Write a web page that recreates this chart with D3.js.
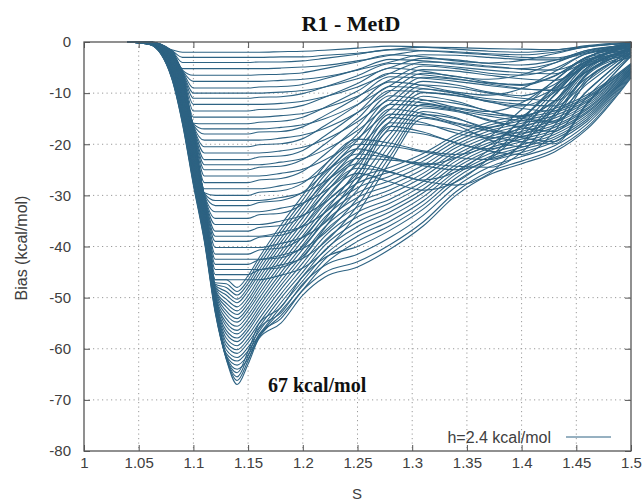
<!DOCTYPE html>
<html>
<head>
<meta charset="utf-8">
<script src="https://cdn.jsdelivr.net/npm/d3@7"></script>
<style>
  body { margin: 0; background: #fff; }
  svg { display: block; }
</style>
</head>
<body>
<div class="viz"></div>
<script>
const width = 643;
const height = 501;

// s values (collective variable) where every bias profile was read
const sValues = [1.04, 1.06, 1.08, 1.09, 1.10, 1.11, 1.12, 1.13, 1.14, 1.15, 1.16, 1.18,
                 1.20, 1.22, 1.25, 1.28, 1.31, 1.34, 1.37, 1.40, 1.43, 1.46, 1.50];

// early profiles: first well (s ~ 1.14) filling, small second well on the right
const earlyBias = [
  [0,0,-1.5,-2,-2,-2,-2,-2,-2,-2,-2,-1.9,-1.8,-1.6,-1.2,-0.8,-1,-1.4,-1.8,-2,-1.6,-0.7,0],
  [0,0,-1.6,-4,-4,-4,-4,-4,-4,-4,-3.9,-3.9,-3.7,-3.2,-2.4,-1.5,-1.7,-2.1,-2.5,-3,-3.1,-1.9,-0.2],
  [0,0,-1.7,-5.5,-6.5,-6.5,-6.5,-6.5,-6.5,-6.5,-6.4,-6.3,-6,-5.2,-3.9,-2.5,-2.9,-3.7,-4.1,-3.6,-2.3,-0.9,-0.3],
  [0,0,-1.9,-5.7,-9,-9,-9,-9,-9,-9,-8.8,-8.7,-8.3,-7.2,-5.4,-3.4,-3.7,-4.3,-4.9,-5.2,-4.1,-1.8,-0.5],
  [0,0,-2,-6,-11,-11,-11,-11,-11,-11,-10.8,-10.7,-10.1,-8.8,-6.6,-4.2,-4.4,-4.9,-5.5,-6,-6.2,-3.8,-0.6],
  [0,0,-2.1,-6.2,-13.5,-13.5,-13.5,-13.5,-13.5,-13.5,-13.2,-13.1,-12.4,-10.8,-8.1,-5.1,-5.7,-6.8,-7.3,-6.4,-4.1,-1.6,-0.8],
  [0,0,-2.2,-6.5,-15.9,-16,-16,-16,-16,-16,-15.7,-15.5,-14.7,-12.8,-9.6,-6.1,-6.4,-7.2,-8,-8.3,-6.6,-2.9,-0.9],
  [0,0,-2.4,-6.7,-16.2,-18,-18,-18,-18,-18,-17.6,-17.5,-16.6,-14.4,-10.8,-6.8,-7.1,-7.7,-8.5,-9.2,-9.4,-5.7,-1.1],
  [0,0,-2.5,-7,-16.5,-20.5,-20.5,-20.5,-20.5,-20.5,-20.1,-19.9,-18.9,-16.4,-12.3,-7.8,-8.5,-9.8,-10.4,-9.1,-5.8,-2.3,-1.2],
  [0,0,-2.6,-7.2,-16.8,-23,-23,-23,-23,-23,-22.5,-22.3,-21.2,-18.4,-13.8,-8.7,-9.1,-10.1,-11.1,-11.5,-9.1,-4,-1.4],
  [0,0,-2.7,-7.4,-17.1,-25,-25,-25,-25,-25,-24.5,-24.3,-23,-20,-15,-9.5,-9.8,-10.5,-11.5,-12.2,-12.5,-7.6,-1.5],
  [0,0,-2.8,-7.7,-17.4,-27.5,-27.5,-27.5,-27.5,-27.5,-27,-26.7,-25.3,-22,-16.5,-10.5,-11.3,-12.8,-13.6,-11.9,-7.6,-3,-1.7],
  [0,0,-3,-7.9,-17.7,-29.5,-30,-30,-30,-30,-29.4,-29.1,-27.6,-24,-18,-11.4,-11.9,-13,-14.1,-14.6,-11.6,-5,-1.8],
  [0,0,-3.1,-8.2,-18,-29.8,-32,-32,-32,-32,-31.4,-31,-29.4,-25.6,-19.2,-12.2,-12.5,-13.4,-14.5,-15.4,-15.7,-9.6,-2],
  [0,0,-3.2,-8.4,-18.4,-30,-34.5,-34.5,-34.5,-34.5,-33.8,-33.5,-31.7,-27.6,-20.7,-13.1,-14,-15.8,-16.7,-14.6,-9.4,-3.7,-2.1],
  [0,0,-3.3,-8.7,-18.7,-30.3,-37,-37,-37,-37,-36.3,-35.9,-34,-29.6,-22.2,-14.1,-14.6,-16,-17.3,-17.8,-14.1,-6.1,-2.3],
  [0,0,-3.5,-8.9,-19,-30.6,-39,-39,-39,-39,-38.2,-37.8,-35.9,-31.2,-23.4,-14.8,-15.8,-17.8,-18.8,-16.5,-10.5,-4.1,-2.4],
  [0,0,-3.6,-9.2,-19.3,-30.9,-41.5,-41.5,-41.5,-41.5,-40.7,-40.3,-38.2,-33.2,-24.9,-15.8,-16.2,-17.2,-18.5,-19.5,-19.9,-12.1,-2.6],
  [0,0,-3.7,-9.4,-19.6,-31.2,-43.5,-43.5,-43.5,-43.5,-42.6,-42.2,-40,-34.8,-26.1,-16.5,-17.6,-19.8,-20.9,-18.3,-11.7,-4.6,-2.7],
  [0,0,-3.8,-9.6,-19.9,-31.5,-45.5,-45.5,-45.5,-45.5,-44.6,-44.1,-41.9,-36.4,-27.3,-17.3,-18,-19.7,-21.3,-22,-17.5,-7.6,-2.9]
];

// profiles in between: hump sits a bit further right (s ~ 1.31)
const midBias = [
  [0,0,-1.6,-3,-3,-3,-3,-3,-3,-3,-3,-2.9,-2.9,-2.6,-2.2,-1.5,-1,-1.1,-1.3,-1.4,-1.5,-0.9,-0.1],
  [0,0,-1.7,-5.2,-5.2,-5.2,-5.2,-5.2,-5.2,-5.2,-5.2,-5.1,-4.9,-4.6,-3.7,-2.6,-1.7,-1.9,-2.3,-2.5,-2,-0.9,-0.3],
  [0,0,-1.8,-5.6,-7.7,-7.7,-7.7,-7.7,-7.7,-7.7,-7.7,-7.5,-7.3,-6.8,-5.5,-3.9,-2.5,-2.6,-3,-3.4,-3.5,-2.1,-0.4],
  [0,0,-1.9,-5.9,-10,-10,-10,-10,-10,-10,-10,-9.8,-9.5,-8.8,-7.2,-5,-3.2,-3.5,-4.2,-4.5,-3.6,-1.6,-0.6],
  [0,0,-2.1,-6.1,-12.2,-12.2,-12.2,-12.2,-12.2,-12.2,-12.2,-12,-11.6,-10.7,-8.8,-6.1,-3.9,-4.1,-4.7,-5.3,-5.5,-3.4,-0.7],
  [0,0,-2.2,-6.3,-14.7,-14.7,-14.7,-14.7,-14.7,-14.7,-14.7,-14.4,-14,-12.9,-10.6,-7.4,-4.7,-5.2,-6.1,-6.5,-5.2,-2.2,-0.9],
  [0,0,-2.3,-6.6,-16,-17,-17,-17,-17,-17,-17,-16.7,-16.2,-15,-12.2,-8.5,-5.4,-5.7,-6.5,-7.2,-7.5,-4.6,-1],
  [0,0,-2.4,-6.8,-16.3,-19.2,-19.2,-19.2,-19.2,-19.2,-19.2,-18.8,-18.2,-16.9,-13.8,-9.6,-6.1,-6.7,-7.9,-8.5,-6.7,-2.9,-1.2],
  [0,0,-2.5,-7.1,-16.6,-21.7,-21.7,-21.7,-21.7,-21.7,-21.7,-21.3,-20.6,-19.1,-15.6,-10.9,-6.9,-7.3,-8.2,-9.1,-9.5,-5.8,-1.3],
  [0,0,-2.7,-7.3,-17,-24,-24,-24,-24,-24,-24,-23.5,-22.8,-21.1,-17.3,-12,-7.7,-8.4,-9.8,-10.5,-8.3,-3.6,-1.5],
  [0,0,-2.8,-7.6,-17.3,-26.2,-26.2,-26.2,-26.2,-26.2,-26.2,-25.7,-24.9,-23.1,-18.9,-13.1,-8.4,-8.9,-10,-11,-11.5,-7,-1.6],
  [0,0,-2.9,-7.8,-17.6,-28.7,-28.7,-28.7,-28.7,-28.7,-28.7,-28.1,-27.3,-25.3,-20.7,-14.4,-9.2,-10,-11.7,-12.5,-9.9,-4.3,-1.8],
  [0,0,-3,-8.1,-17.9,-29.6,-31,-31,-31,-31,-31,-30.4,-29.5,-27.3,-22.3,-15.5,-9.9,-10.4,-11.7,-13,-13.5,-8.2,-1.9],
  [0,0,-3.2,-8.3,-18.2,-29.9,-33.2,-33.2,-33.2,-33.2,-33.2,-32.5,-31.5,-29.2,-23.9,-16.6,-10.6,-11.6,-13.5,-14.5,-11.5,-5,-2.1],
  [0,0,-3.3,-8.5,-18.5,-30.2,-35.7,-35.7,-35.7,-35.7,-35.7,-35,-33.9,-31.4,-25.7,-17.9,-11.4,-12,-13.5,-14.9,-15.5,-9.5,-2.2],
  [0,0,-3.4,-8.8,-18.8,-30.5,-38,-38,-38,-38,-38,-37.2,-36.1,-33.4,-27.4,-19,-12.2,-13.3,-15.4,-16.5,-13.1,-5.7,-2.4],
  [0,0,-3.5,-9,-19.1,-30.8,-40.2,-40.2,-40.2,-40.2,-40.2,-39.4,-38.2,-35.4,-28.9,-20.1,-12.9,-13.6,-15.2,-16.8,-17.5,-10.7,-2.5],
  [0,0,-3.6,-9.3,-19.4,-31.1,-42.5,-42.5,-42.5,-42.5,-42.5,-41.7,-40.4,-37.4,-30.6,-21.3,-13.6,-14.8,-17.3,-18.5,-14.7,-6.4,-2.7],
  [0,0,-3.8,-9.5,-19.8,-31.3,-44.5,-44.5,-44.5,-44.5,-44.5,-43.6,-42.3,-39.2,-32,-22.3,-14.2,-15,-16.9,-18.7,-19.5,-11.9,-2.8],
  [0,0,-3.9,-9.8,-20.1,-31.6,-46.5,-46.5,-46.5,-46.5,-46.5,-45.6,-44.2,-40.9,-33.5,-23.3,-14.9,-16.3,-19.1,-20.5,-16.3,-7.1,-3]
];

// later profiles: deeper first well, bias spread over s = 1.2 - 1.5
const lateBias = [
  [0,-0.2,-3.9,-9.9,-20.2,-31.8,-46.5,-46.5,-48,-45.7,-42.2,-35.8,-30,-24.2,-19,-19.8,-21.3,-22,-20.2,-15.2,-8.8,-3.2,0],
  [0,-0.2,-4.1,-10.1,-20.5,-32.1,-47.1,-47.3,-48.8,-46.5,-43,-36.7,-30.9,-25.2,-20,-20.4,-21.5,-22.6,-23,-20.1,-12.9,-5.1,0],
  [0,-0.2,-4.2,-10.4,-20.8,-32.4,-47.4,-48,-49.5,-47.2,-43.8,-37.5,-31.8,-26.1,-20.9,-22.5,-24,-22.6,-18.7,-13.2,-7.5,-3,-0.5],
  [0,-0.3,-4.3,-10.6,-21.2,-32.6,-47.6,-48.8,-50.3,-48,-44.6,-38.4,-32.7,-27,-21.9,-22.7,-24.2,-25,-23,-17.4,-10.3,-4.1,-0.5],
  [0,-0.3,-4.4,-10.9,-21.5,-32.9,-47.9,-49.5,-51,-48.7,-45.4,-39.2,-33.5,-27.9,-22.8,-23.1,-23.7,-24.3,-24.5,-21.6,-14.2,-6.2,-1],
  [0,-0.3,-4.6,-11.1,-21.8,-33.2,-48.1,-50.3,-51.8,-49.6,-46.2,-40,-34.4,-28.8,-23.8,-25.4,-27,-25.4,-21.1,-15.1,-8.8,-3.8,-1],
  [0,-0.3,-4.7,-11.4,-22.1,-33.5,-48.4,-51.1,-52.6,-50.4,-47,-40.9,-35.3,-29.7,-24.7,-25.5,-27.2,-28,-25.8,-19.8,-12.2,-5.4,-1.5],
  [0,-0.3,-4.8,-11.6,-22.4,-33.8,-48.6,-51.8,-53.3,-51.1,-47.8,-41.7,-36.2,-30.7,-25.7,-27.4,-29,-27.4,-22.8,-16.4,-9.7,-4.5,-1.5],
  [0,-0.3,-4.9,-11.8,-22.7,-34.1,-48.8,-52.6,-54.1,-51.9,-48.6,-42.5,-37,-31.6,-26.6,-24.5,-21.8,-18.2,-15.7,-14.4,-13,-10.3,-4.2],
  [0,-0.3,-5,-12.1,-23,-34.4,-49.1,-53.3,-54.8,-52.6,-49.4,-43.4,-37.9,-32.5,-27.6,-25.4,-22.6,-18.8,-16.3,-14.9,-13.5,-10.7,-4.4],
  [0,-0.3,-5.2,-12.3,-23.3,-34.7,-49.3,-54.1,-55.6,-53.4,-50.2,-44.2,-38.8,-33.4,-28.5,-26.2,-23.3,-19.4,-16.8,-15.4,-13.9,-11,-4.5],
  [0,-0.3,-5.3,-12.6,-23.6,-35,-49.6,-54.9,-56.4,-54.2,-51,-45.1,-39.7,-34.3,-29.5,-27.1,-24.1,-20.1,-17.4,-15.9,-14.4,-11.4,-4.7],
  [0,-0.4,-5.4,-12.8,-24,-35.2,-49.8,-55.6,-57.1,-55,-51.8,-45.9,-40.5,-35.2,-30.4,-28,-24.9,-20.7,-18,-16.4,-14.9,-11.7,-4.8],
  [0,-0.4,-5.5,-13.1,-24.3,-35.5,-50.1,-56.4,-57.9,-55.8,-52.6,-46.8,-41.5,-36.2,-31.4,-28.9,-25.7,-21.4,-18.6,-17,-15.4,-12.1,-5],
  [0,-0.4,-5.7,-13.3,-24.6,-35.8,-50.3,-57.1,-58.6,-56.5,-53.3,-47.6,-42.3,-37,-32.3,-29.7,-26.4,-22,-19.1,-17.5,-15.8,-12.5,-5.1],
  [0,-0.4,-5.8,-13.6,-24.9,-36.1,-50.6,-57.9,-59.4,-57.3,-54.2,-48.4,-43.2,-38,-33.3,-30.7,-27.3,-22.7,-19.7,-18,-16.3,-12.9,-5.3],
  [0,-0.4,-5.9,-13.8,-25.2,-36.4,-50.8,-58.7,-60.2,-58.1,-55,-49.3,-44.1,-38.9,-34.2,-31.5,-28,-23.3,-20.2,-18.5,-16.7,-13.2,-5.4],
  [0,-0.4,-6,-14,-25.5,-36.7,-51,-59.4,-60.9,-58.8,-55.8,-50.1,-45,-39.8,-35.2,-32.4,-28.8,-24,-20.8,-19,-17.2,-13.6,-5.6],
  [0,-0.4,-6.1,-14.3,-25.8,-37,-51.3,-60.2,-61.7,-59.7,-56.6,-51,-45.8,-40.7,-36.1,-33.2,-29.5,-24.6,-21.3,-19.5,-17.6,-13.9,-5.7],
  [0,-0.4,-6.3,-14.5,-26.1,-37.3,-51.5,-60.9,-62.4,-60.4,-57.3,-51.8,-46.7,-41.7,-37.1,-34.1,-30.3,-25.3,-21.9,-20.1,-18.1,-14.3,-5.9],
  [0,-0.4,-6.4,-14.8,-26.4,-37.6,-51.8,-61.3,-63.2,-61.2,-57.6,-52.6,-47.6,-42.5,-38,-35,-31.1,-25.9,-22.5,-20.6,-18.6,-14.7,-6],
  [0,-0.5,-6.5,-15,-26.8,-37.8,-52,-61.5,-64,-62,-57.8,-53.5,-48.5,-43.5,-39,-35.9,-31.9,-26.6,-23,-21.1,-19,-15.1,-6.2],
  [0,-0.5,-6.6,-15.3,-27.1,-38.1,-52.3,-61.6,-64.7,-60.5,-55.1,-51.9,-45.9,-42.2,-40,-36.8,-32.7,-27.3,-23.6,-21.6,-19.5,-15.5,-6.4],
  [0,-0.5,-6.8,-15.5,-27.4,-38.4,-52.5,-61.7,-65.5,-61.4,-56.1,-53,-47.3,-43.7,-41.5,-38.2,-33.9,-28.3,-24.5,-22.4,-20.3,-16,-6.6],
  [0,-0.5,-6.9,-15.8,-27.7,-38.7,-52.8,-61.9,-66.2,-62.3,-57.2,-54.1,-48.6,-45.1,-43,-39.6,-35.2,-29.3,-25.4,-23.3,-21,-16.6,-6.8],
  [0,-0.5,-7,-16,-28,-39,-53,-62,-67,-63,-58,-55,-49.5,-46,-44,-40.5,-36,-30,-26,-23.8,-21.5,-17,-7]
];

const xTicks = [1, 1.05, 1.1, 1.15, 1.2, 1.25, 1.3, 1.35, 1.4, 1.45, 1.5];
const yTicks = [0, -10, -20, -30, -40, -50, -60, -70, -80];

const lineColor = "#2e6383";
const textColor = "#404040";

// plot box
const plotLeft = 84, plotRight = 631, plotTop = 42, plotBottom = 451;

const svg = d3.select(".viz")
    .append("svg")
    .attr("width", width)
    .attr("height", height);

const x = d3.scaleLinear().domain([1, 1.5]).range([plotLeft, plotRight]);
const y = d3.scaleLinear().domain([-80, 0]).range([plotBottom, plotTop]);

// dotted grid
svg.append("g")
    .selectAll("line")
    .data(xTicks.slice(1, -1))
    .enter()
    .append("line")
    .attr("x1", d => x(d)).attr("x2", d => x(d))
    .attr("y1", plotTop).attr("y2", plotBottom)
    .style("stroke", "#9a9a9a")
    .style("stroke-dasharray", "1.2,3.3");

svg.append("g")
    .selectAll("line")
    .data(yTicks.slice(1, -1))
    .enter()
    .append("line")
    .attr("x1", plotLeft).attr("x2", plotRight)
    .attr("y1", d => y(d)).attr("y2", d => y(d))
    .style("stroke", "#9a9a9a")
    .style("stroke-dasharray", "1.2,3.3");

// bias profiles
const line = d3.line()
    .x((d, i) => x(sValues[i]))
    .y(d => y(d))
    .curve(d3.curveMonotoneX);

svg.append("g")
    .selectAll("path")
    .data(earlyBias.concat(midBias, lateBias))
    .enter()
    .append("path")
    .attr("d", line)
    .style("fill", "none")
    .style("stroke", lineColor)
    .style("stroke-width", 1.1);

// axes, ticks pointing inside like gnuplot
const yAxis = svg.append("g")
    .attr("transform", `translate(${plotLeft},0)`)
    .call(d3.axisLeft(y).tickValues(yTicks).tickSizeInner(-6).tickSizeOuter(0)
        .tickPadding(13).tickFormat(d => String(d)));

const xAxis = svg.append("g")
    .attr("transform", `translate(0,${plotBottom})`)
    .call(d3.axisBottom(x).tickValues(xTicks).tickSizeInner(-6).tickSizeOuter(0)
        .tickPadding(6).tickFormat(d => String(d)));

svg.append("g")
    .attr("transform", `translate(${plotRight},0)`)
    .call(d3.axisRight(y).tickValues(yTicks).tickSizeInner(-6).tickSizeOuter(0).tickFormat(""));

svg.append("g")
    .attr("transform", `translate(0,${plotTop})`)
    .call(d3.axisTop(x).tickValues(xTicks).tickSizeInner(-6).tickSizeOuter(0).tickFormat(""));

svg.selectAll(".domain").remove();
svg.selectAll(".tick line").style("stroke", "#555");
[yAxis, xAxis].forEach(a => a.selectAll("text")
    .style("font-family", "'Liberation Sans', Arial, sans-serif")
    .style("font-size", "15px")
    .style("fill", textColor));

// frame
svg.append("rect")
    .attr("x", plotLeft).attr("y", plotTop)
    .attr("width", plotRight - plotLeft).attr("height", plotBottom - plotTop)
    .style("fill", "none")
    .style("stroke", "#555")
    .style("stroke-width", 1.3);

// title and labels
svg.append("text")
    .attr("x", 351).attr("y", 31)
    .attr("text-anchor", "middle")
    .style("font-family", "'Liberation Serif', 'Times New Roman', serif")
    .style("font-weight", "bold")
    .style("font-size", "22px")
    .style("fill", "#111")
    .text("R1 - MetD");

svg.append("text")
    .attr("transform", "translate(27,248) rotate(-90)")
    .attr("text-anchor", "middle")
    .style("font-family", "'Liberation Sans', Arial, sans-serif")
    .style("font-size", "16px")
    .style("fill", textColor)
    .text("Bias (kcal/mol)");

svg.append("text")
    .attr("x", 357).attr("y", 499)
    .attr("text-anchor", "middle")
    .style("font-family", "'Liberation Sans', Arial, sans-serif")
    .style("font-size", "15px")
    .style("fill", textColor)
    .text("S");

svg.append("text")
    .attr("x", 268).attr("y", 392)
    .style("font-family", "'Liberation Serif', 'Times New Roman', serif")
    .style("font-weight", "bold")
    .style("font-size", "20px")
    .style("fill", "#111")
    .text("67 kcal/mol");

// legend
svg.append("text")
    .attr("x", 551).attr("y", 443)
    .attr("text-anchor", "end")
    .style("font-family", "'Liberation Sans', Arial, sans-serif")
    .style("font-size", "16px")
    .style("fill", textColor)
    .text("h=2.4 kcal/mol");

svg.append("line")
    .attr("x1", 566).attr("x2", 611)
    .attr("y1", 437).attr("y2", 437)
    .style("stroke", lineColor)
    .style("stroke-width", 1);
</script>
</body>
</html>
